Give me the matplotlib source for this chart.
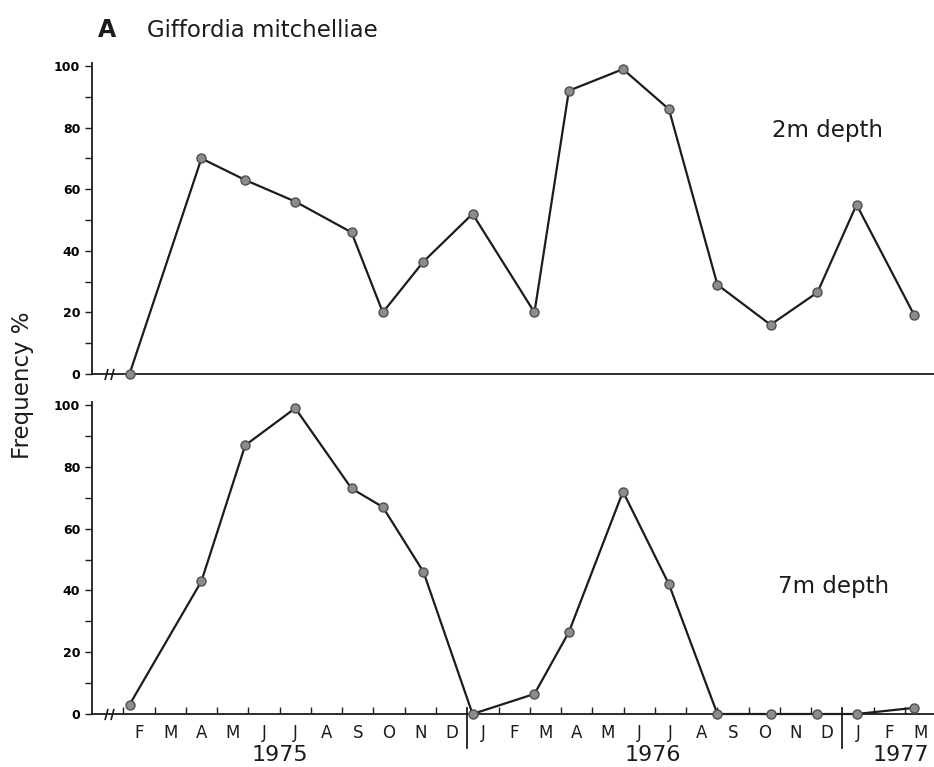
import numpy as np
import matplotlib; matplotlib.use("Agg")
import matplotlib.pyplot as plt

# sampling dates, in months counted from 1 Jan 1975
MONTHS = [1.2, 3.5, 4.9, 6.5, 8.3, 9.3, 10.6, 12.17, 14.15, 15.25, 16.98, 18.45, 20.0, 21.7, 23.2, 24.45, 26.3]
FREQ_2M = [0, 70, 63, 56, 46, 20, 36.5, 52, 20, 92, 99, 86, 29, 16, 26.5, 55, 19]
FREQ_7M = [3, 43, 87, 99, 73, 67, 46, 0, 6.5, 26.5, 72, 42, 0, 0, 0, 0, 2]
MONTH_LETTERS = list("FMAMJJASOND") + list("JFMAMJJASOND") + list("JFM")
YEARS = [("1975", 6.0), ("1976", 17.95), ("1977", 25.85)]

W, H = 934, 767
PX = 31.27           # pixels per month
X0 = 92              # left axis position, px
XMAX = (W - X0) / PX

fig = plt.figure(figsize=(W / 100, H / 100), dpi=100)
ax_top = fig.add_axes([X0 / W, 1 - 374 / H, (W - X0) / W, 311 / H])
ax_bot = fig.add_axes([X0 / W, 1 - 714 / H, (W - X0) / W, 312 / H])

ink = "#1c1c1c"

for ax, vals in ((ax_top, FREQ_2M), (ax_bot, FREQ_7M)):
    ax.plot(MONTHS, vals, color=ink, lw=1.6, marker="o", ms=6.5,
            mfc="#8c8c8c", mec="#505050", mew=1.0, clip_on=False, zorder=3)
    ax.set_xlim(0, XMAX)
    ax.set_ylim(0, 101)
    for s in ("top", "right"):
        ax.spines[s].set_visible(False)
    for s in ("left", "bottom"):
        ax.spines[s].set_linewidth(1.3)
        ax.spines[s].set_color(ink)
    ax.set_yticks(range(0, 101, 20))
    ax.set_yticks(range(10, 100, 20), minor=True)
    ax.tick_params(axis="y", which="both", direction="out", length=5, width=1,
                   color=ink, pad=3.5)
    ax.tick_params(axis="y", labelsize=9)
    for t in ax.get_yticklabels():
        t.set_fontweight("bold")
    # axis break marks just right of the origin
    ax.plot([0.45, 0.64], [0, 0], ls="none", marker=[(-0.4, -1.5), (0.4, 1.5)],
            ms=8, mec=ink, mew=1.2, clip_on=False, zorder=4)

ax_top.set_xticks([])

ticks = [m for m in range(1, 27) if m not in (12, 24)]
ax_bot.set_xticks(ticks)
ax_bot.set_xticklabels([])
ax_bot.tick_params(axis="x", direction="in", length=5, width=1, color=ink)

# year separators
for m in (12, 24):
    ax_bot.plot([m, m], [1.9, -11], color=ink, lw=1.3, clip_on=False)

for i, lab in enumerate(MONTH_LETTERS):
    ax_bot.annotate(lab, xy=(1.5 + i, 0), xytext=(0, -13.5), textcoords="offset points",
                    ha="center", va="center", fontsize=12, color=ink,
                    annotation_clip=False)
for lab, m in YEARS:
    ax_bot.annotate(lab, xy=(m, 0), xytext=(0, -29.5), textcoords="offset points",
                    ha="center", va="center", fontsize=16, color=ink,
                    annotation_clip=False)

fig.text(98 / W, 1 - 36.7 / H, "A", fontsize=17, fontweight="bold", color=ink, va="baseline")
fig.text(147 / W, 1 - 36.7 / H, "Giffordia mitchelliae", fontsize=16.5, color=ink, va="baseline")
fig.text(772 / W, 1 - 137 / H, "2m depth", fontsize=16.5, color=ink, va="baseline")
fig.text(778 / W, 1 - 593 / H, "7m depth", fontsize=16.5, color=ink, va="baseline")
fig.text(23 / W, 1 - 385 / H, "Frequency %", fontsize=16.5, color=ink, rotation=90,
         ha="center", va="center")

fig.savefig("out.png", dpi=100)
